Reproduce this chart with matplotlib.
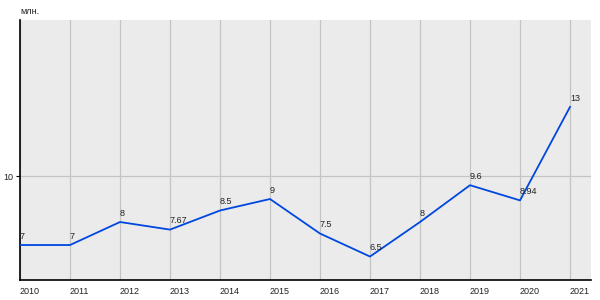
import matplotlib
matplotlib.use("Agg")
import matplotlib.pyplot as plt

plt.rcParams['font.family'] = ['Liberation Sans', 'DejaVu Sans']

years = [2010, 2011, 2012, 2013, 2014, 2015, 2016, 2017, 2018, 2019, 2020, 2021]
values = [7, 7, 8, 7.67, 8.5, 9, 7.5, 6.5, 8, 9.6, 8.94, 13]
labels = ['7', '7', '8', '7.67', '8.5', '9', '7.5', '6.5', '8', '9.6', '8.94', '13']

fig = plt.figure(figsize=(6, 3), dpi=100)
ax = fig.add_axes([20 / 600, 20 / 300, 571 / 600, 260 / 300])
ax.set_facecolor('#ebebeb')

ax.plot(years, values, color='#0047e0', lw=1.3, zorder=3)
for x, y, t in zip(years, values, labels):
    ax.annotate(t, (x, y), xytext=(0, 3), textcoords='offset points',
                ha='left', va='bottom', fontsize=6.5, color='#222222', zorder=4)

ax.set_xlim(2010, 2021.42)
ax.set_ylim(5.48, 16.78)
ax.set_xticks(years)
ax.set_xticklabels([str(y) for y in years], ha='left')
ax.set_yticks([10])
ax.grid(True, color='#c4c4c4', lw=0.9, zorder=1)
ax.tick_params(axis='x', length=0, labelsize=6.5, pad=5, colors='#222222')
ax.tick_params(axis='y', length=3, labelsize=6.5, pad=2, colors='#222222')
ax.tick_params(axis='y', color='black')

for s in ['top', 'right']:
    ax.spines[s].set_visible(False)
ax.spines['left'].set_color('black')
ax.spines['bottom'].set_color('black')
ax.spines['left'].set_linewidth(1.2)
ax.spines['bottom'].set_linewidth(1.2)

fig.text(20 / 600, 1 - 12 / 300, 'млн.', fontsize=6.5, color='#222222', va='center', ha='left')

fig.savefig('out.png', dpi=100, facecolor='white')
